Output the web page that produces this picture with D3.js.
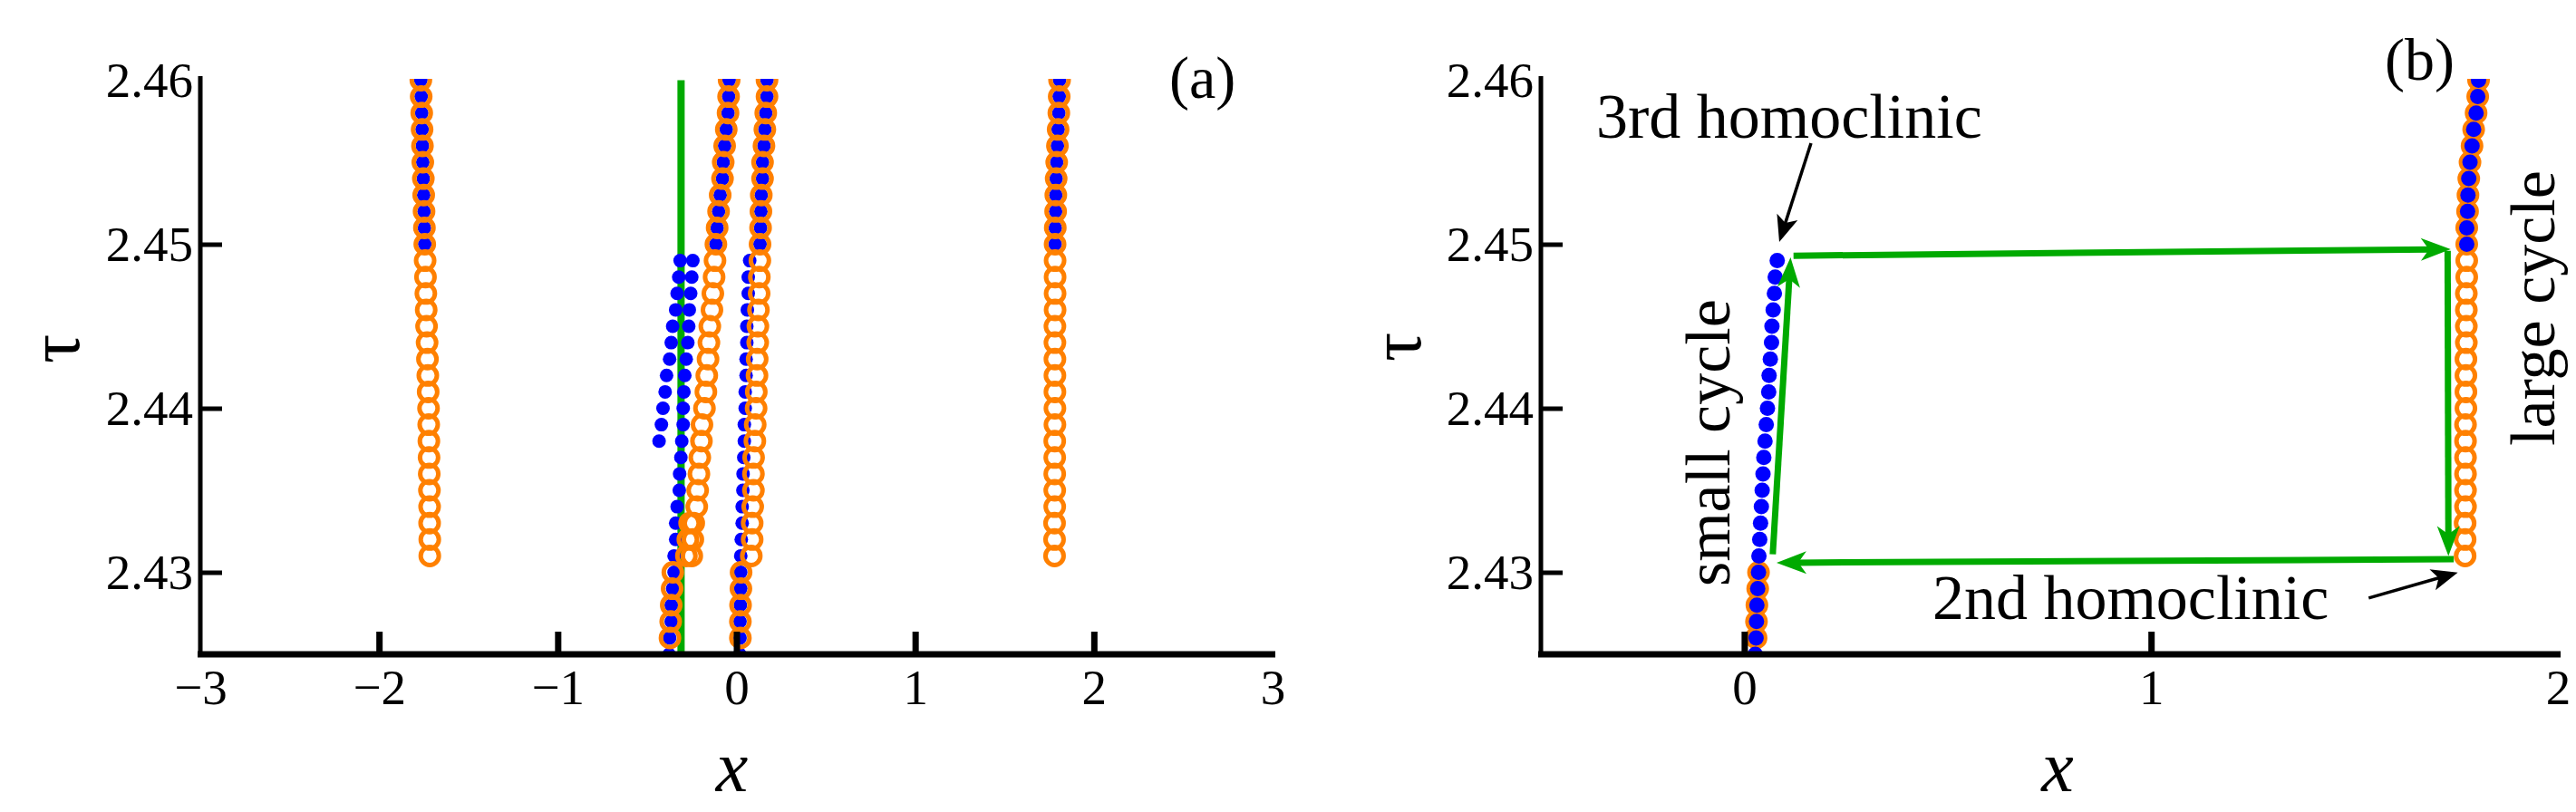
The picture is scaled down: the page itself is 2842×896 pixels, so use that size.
<!DOCTYPE html>
<html>
<head>
<meta charset="utf-8">
<title>Homoclinic bifurcation diagram</title>
<script src="https://cdn.jsdelivr.net/npm/d3@7/dist/d3.min.js"></script>
<style>
  html, body { margin: 0; padding: 0; background: #ffffff; }
  svg text { font-family: "Liberation Serif", "Times New Roman", Times, serif; fill: #000; }
</style>
</head>
<body>
<svg id="chart" width="2842" height="896"></svg>
<script>
// ================= DATA =================
// tau grids (one point every 0.001)
const tauLarge = [2.431, 2.432, 2.433, 2.434, 2.435, 2.436, 2.437, 2.438, 2.439, 2.440,
                  2.441, 2.442, 2.443, 2.444, 2.445, 2.446, 2.447, 2.448, 2.449, 2.450,
                  2.451, 2.452, 2.453, 2.454, 2.455, 2.456, 2.457, 2.458, 2.459, 2.460];
const tauUpper = [2.450, 2.451, 2.452, 2.453, 2.454, 2.455, 2.456, 2.457, 2.458, 2.459, 2.460];
const tauSmall = [2.425, 2.426, 2.427, 2.428, 2.429, 2.430, 2.431, 2.432, 2.433, 2.434,
                  2.435, 2.436, 2.437, 2.438, 2.439, 2.440, 2.441, 2.442, 2.443, 2.444,
                  2.445, 2.446, 2.447, 2.448, 2.449];
const tauLow = [2.426, 2.427, 2.428, 2.429, 2.430];
const tauSmallLeft = [2.438, 2.439, 2.440, 2.441, 2.442, 2.443, 2.444, 2.445, 2.446, 2.447, 2.448, 2.449];
const tauCluster = [2.431, 2.432, 2.433];

// ---- panel (a) : unstable (orange open circles) ----
const aLargeLeftX = [-1.716, -1.716, -1.717, -1.717, -1.718, -1.719, -1.720, -1.721, -1.722, -1.723,
                     -1.725, -1.727, -1.729, -1.731, -1.734, -1.736, -1.738, -1.740, -1.742, -1.744,
                     -1.746, -1.748, -1.750, -1.752, -1.755, -1.757, -1.759, -1.761, -1.764, -1.766];
const aLargeRightX = [1.780, 1.780, 1.780, 1.781, 1.781, 1.781, 1.781, 1.781, 1.782, 1.782,
                      1.782, 1.782, 1.782, 1.782, 1.782, 1.783, 1.783, 1.783, 1.783, 1.783,
                      1.784, 1.786, 1.787, 1.789, 1.792, 1.796, 1.800, 1.804, 1.806, 1.808];
const aMidLeftX = [-0.250, -0.244, -0.239, -0.222, -0.217, -0.210, -0.205, -0.196, -0.193, -0.179,
                   -0.171, -0.166, -0.159, -0.154, -0.149, -0.137, -0.132, -0.125, -0.120, -0.115,
                   -0.108, -0.100, -0.091, -0.078, -0.074, -0.066, -0.057, -0.047, -0.044, -0.041];
const aMidRightX = [0.083, 0.088, 0.088, 0.091, 0.095, 0.095, 0.096, 0.103, 0.105, 0.110,
                    0.111, 0.115, 0.116, 0.119, 0.120, 0.123, 0.127, 0.128, 0.131, 0.132,
                    0.135, 0.137, 0.139, 0.146, 0.146, 0.154, 0.159, 0.164, 0.171, 0.171];
const aLowLeftX = [-0.372, -0.368, -0.365, -0.360, -0.356];
const aLowRightX = [0.022, 0.022, 0.023, 0.025, 0.026];
const aClusterX = [-0.280, -0.272, -0.262];

// ---- panel (a) : stable (blue filled dots) ----
const aUpperLeftX = [-1.744, -1.746, -1.748, -1.750, -1.752, -1.755, -1.757, -1.759, -1.761, -1.764, -1.766];
const aUpperRightX = [1.783, 1.784, 1.786, 1.787, 1.789, 1.792, 1.796, 1.800, 1.804, 1.806, 1.808];
const aUpperMidLeftX = [-0.115, -0.108, -0.100, -0.091, -0.078, -0.074, -0.066, -0.057, -0.047, -0.044, -0.041];
const aUpperMidRightX = [0.132, 0.135, 0.137, 0.139, 0.146, 0.146, 0.154, 0.159, 0.164, 0.171, 0.171];
const aSmallLeftX = [-0.433, -0.420, -0.411, -0.399, -0.391, -0.374, -0.365, -0.357, -0.340, -0.332, -0.323, -0.315];
const aSmallMidX = [-0.377, -0.374, -0.365, -0.365, -0.357, -0.349, -0.349, -0.340, -0.340, -0.332,
                    -0.320, -0.318, -0.311, -0.306, -0.298, -0.298, -0.294, -0.289, -0.281, -0.272,
                    -0.267, -0.264, -0.256, -0.250, -0.244];
const aSmallRightX = [0.019, 0.020, 0.020, 0.022, 0.024, 0.024, 0.024, 0.027, 0.032, 0.032,
                      0.036, 0.037, 0.041, 0.044, 0.044, 0.049, 0.049, 0.054, 0.054, 0.058,
                      0.058, 0.061, 0.066, 0.066, 0.074];

// ---- panel (a) : green line ----
const aGreenX = [-0.31, -0.31];
const aGreenTau = [2.425, 2.46];

// ---- panel (b) ----
const bSmallX = [0.027, 0.029, 0.030, 0.031, 0.033, 0.035, 0.036, 0.038, 0.040, 0.042,
                 0.044, 0.046, 0.048, 0.051, 0.054, 0.057, 0.060, 0.061, 0.064, 0.067,
                 0.068, 0.071, 0.074, 0.076, 0.081];
const bLowX = [0.029, 0.030, 0.031, 0.033, 0.035];
const bLargeX = [1.772, 1.772, 1.772, 1.773, 1.773, 1.773, 1.773, 1.773, 1.773, 1.774,
                 1.774, 1.774, 1.774, 1.775, 1.775, 1.775, 1.775, 1.776, 1.776, 1.776,
                 1.776, 1.778, 1.779, 1.781, 1.784, 1.789, 1.793, 1.799, 1.803, 1.805];
const bUpperX = [1.776, 1.776, 1.778, 1.779, 1.781, 1.784, 1.789, 1.793, 1.799, 1.803, 1.805];

// hysteresis loop (green arrows): from -> to
const loopFromX   = [0.070, 0.121, 1.729, 1.744];
const loopFromTau = [2.4311, 2.4493, 2.4496, 2.4308];
const loopToX     = [0.1137, 1.7366, 1.731, 0.0793];
const loopToTau   = [2.4492, 2.4497, 2.4310, 2.43058];

// annotation arrows (black)
const annFromX   = [0.164, 1.535];
const annFromTau = [2.45616, 2.42843];
const annToX     = [0.086, 1.754];
const annToTau   = [2.45014, 2.42999];

// tick values
const aXTicks = [-3, -2, -1, 0, 1, 2, 3];
const aXTickMarks = [-2, -1, 0, 1, 2];
const bXTicks = [0, 1, 2];
const bXTickMarks = [0, 1];
const yTicks = [2.43, 2.44, 2.45, 2.46];
const yTickMarks = [2.43, 2.44, 2.45];

// ================= DRAWING =================
const W = 2842, H = 896;
const BLUE = "#0000ff", ORANGE = "#ff8000", GREEN = "#00aa00";
const svg = d3.select("#chart");
svg.append("rect").attr("width", W).attr("height", H).attr("fill", "#fff");

const y = d3.scaleLinear().domain([2.425, 2.46]).range([722, 88.5]);
const xa = d3.scaleLinear().domain([-3, 3]).range([221, 1404]);
const xb = d3.scaleLinear().domain([-0.5, 2]).range([1700, 2822]);

const defs = svg.append("defs");
function addClip(id, x) {
  defs.append("clipPath").attr("id", id).append("rect")
    .attr("x", x.range()[0]).attr("y", 87)
    .attr("width", x.range()[1] - x.range()[0]).attr("height", y.range()[0] - 87);
}
addClip("clipA", xa);
addClip("clipB", xb);

function dots(g, x, xs, taus, r) {
  g.append("g").selectAll("circle").data(d3.zip(xs, taus)).join("circle")
    .attr("cx", d => x(d[0])).attr("cy", d => y(d[1])).attr("r", r)
    .attr("fill", BLUE);
}
function rings(g, x, xs, taus, r, sw) {
  g.append("g").selectAll("circle").data(d3.zip(xs, taus)).join("circle")
    .attr("cx", d => x(d[0])).attr("cy", d => y(d[1])).attr("r", r)
    .attr("fill", "none").attr("stroke", ORANGE).attr("stroke-width", sw);
}
function arrow(g, x, fx, ft, tx, tt, color, width, len, hw, notch) {
  const x0 = x(fx), y0 = y(ft), x1 = x(tx), y1 = y(tt);
  const ang = Math.atan2(y1 - y0, x1 - x0);
  const back = len * 0.6;
  g.append("line")
    .attr("x1", x0).attr("y1", y0)
    .attr("x2", x1 - Math.cos(ang) * back).attr("y2", y1 - Math.sin(ang) * back)
    .attr("stroke", color).attr("stroke-width", width);
  g.append("path")
    .attr("d", `M0,0 L${-len},${-hw} L${-len + notch},0 L${-len},${hw} Z`)
    .attr("transform", `translate(${x1},${y1}) rotate(${ang * 180 / Math.PI})`)
    .attr("fill", color);
}

function axes(x, xTicks, xMarks) {
  const g = svg.append("g");
  const x0 = x.range()[0], x1 = x.range()[1];
  // x tick labels
  const gx = g.append("g").attr("transform", `translate(0,${y.range()[0]})`)
    .call(d3.axisBottom(x).tickValues(xTicks).tickSize(0).tickPadding(16).tickFormat(d3.format("d")));
  gx.select(".domain").remove();
  gx.selectAll("text").attr("font-size", 55).attr("font-family", "Liberation Serif");
  // x tick marks (inward)
  const gxm = g.append("g").attr("transform", `translate(0,${y.range()[0]})`)
    .call(d3.axisBottom(x).tickValues(xMarks).tickSizeInner(-25).tickSizeOuter(0).tickFormat(""));
  gxm.select(".domain").remove();
  gxm.selectAll("line").attr("stroke", "#000").attr("stroke-width", 7);
  // y tick labels
  const gy = g.append("g").attr("transform", `translate(${x0},0)`)
    .call(d3.axisLeft(y).tickValues(yTicks).tickSize(0).tickPadding(8).tickFormat(d3.format(".2f")));
  gy.select(".domain").remove();
  gy.selectAll("text").attr("font-size", 55).attr("font-family", "Liberation Serif");
  // y tick marks (inward)
  const gym = g.append("g").attr("transform", `translate(${x0},0)`)
    .call(d3.axisLeft(y).tickValues(yTickMarks).tickSizeInner(-24).tickSizeOuter(0).tickFormat(""));
  gym.select(".domain").remove();
  gym.selectAll("line").attr("stroke", "#000").attr("stroke-width", 5);
  // axis lines
  g.append("line").attr("x1", x0).attr("x2", x0).attr("y1", 84).attr("y2", y.range()[0])
    .attr("stroke", "#000").attr("stroke-width", 5);
  g.append("line").attr("x1", x0 - 3).attr("x2", x1 + 3).attr("y1", y.range()[0]).attr("y2", y.range()[0])
    .attr("stroke", "#000").attr("stroke-width", 7);
}

// ---------- panel (a) ----------
const pa = svg.append("g").attr("clip-path", "url(#clipA)");
pa.append("path")
  .datum(d3.zip(aGreenX, aGreenTau))
  .attr("d", d3.line().x(d => xa(d[0])).y(d => y(d[1])))
  .attr("stroke", GREEN).attr("stroke-width", 8).attr("fill", "none");
const RA = 7.5;
dots(pa, xa, aUpperLeftX, tauUpper, RA);
dots(pa, xa, aUpperRightX, tauUpper, RA);
dots(pa, xa, aUpperMidLeftX, tauUpper, RA);
dots(pa, xa, aUpperMidRightX, tauUpper, RA);
dots(pa, xa, aSmallLeftX, tauSmallLeft, RA);
dots(pa, xa, aSmallMidX, tauSmall, RA);
dots(pa, xa, aSmallRightX, tauSmall, RA);
rings(pa, xa, aLargeLeftX, tauLarge, 10, 5);
rings(pa, xa, aLargeRightX, tauLarge, 10, 5);
rings(pa, xa, aMidLeftX, tauLarge, 10, 5);
rings(pa, xa, aMidRightX, tauLarge, 10, 5);
rings(pa, xa, aClusterX, tauCluster, 10, 5);
rings(pa, xa, aLowLeftX, tauLow, 10, 5);
rings(pa, xa, aLowRightX, tauLow, 10, 5);
axes(xa, aXTicks, aXTickMarks);

// ---------- panel (b) ----------
const pb = svg.append("g").attr("clip-path", "url(#clipB)");
rings(pb, xb, bLowX, tauLow, 10, 5);
rings(pb, xb, bLargeX, tauLarge, 10, 5);
dots(pb, xb, bSmallX, tauSmall, 8.5);
dots(pb, xb, bUpperX, tauUpper, 8.5);
const loopG = svg.append("g");
for (let i = 0; i < loopFromX.length; i++) {
  arrow(loopG, xb, loopFromX[i], loopFromTau[i], loopToX[i], loopToTau[i], GREEN, 7, 33, 12.5, 9);
}
const annG = svg.append("g");
for (let i = 0; i < annFromX.length; i++) {
  arrow(annG, xb, annFromX[i], annFromTau[i], annToX[i], annToTau[i], "#000", 3.5, 29, 12, 7);
}
axes(xb, bXTicks, bXTickMarks);

// ---------- texts ----------
const T = svg.append("g");
// axis titles
T.append("text").attr("x", xa(0) - 5).attr("y", 873).attr("text-anchor", "middle")
  .attr("font-size", 80).attr("font-style", "italic").text("x");
T.append("text").attr("x", xb(0.77)).attr("y", 873).attr("text-anchor", "middle")
  .attr("font-size", 80).attr("font-style", "italic").text("x");
T.append("text").attr("transform", "translate(87,385) rotate(-90)").attr("text-anchor", "middle")
  .attr("font-size", 80).text("τ");
T.append("text").attr("transform", "translate(1567,383) rotate(-90)").attr("text-anchor", "middle")
  .attr("font-size", 80).text("τ");
// panel labels
T.append("text").attr("x", 1290).attr("y", 108).attr("font-size", 66).text("(a)");
T.append("text").attr("x", 2631).attr("y", 88).attr("font-size", 66).text("(b)");
// annotations (anchored in data coordinates of panel b)
T.append("text").attr("x", xb(-0.364)).attr("y", y(2.45649)).attr("font-size", 70).text("3rd homoclinic");
T.append("text").attr("x", xb(1.437)).attr("y", y(2.42715)).attr("text-anchor", "end")
  .attr("font-size", 70).text("2nd homoclinic");
T.append("text").attr("transform", `translate(${xb(-0.037)},${y(2.42914)}) rotate(-90)`)
  .attr("font-size", 70).text("small cycle");
T.append("text").attr("transform", `translate(${xb(1.991)},${y(2.43771)}) rotate(-90)`)
  .attr("font-size", 70).text("large cycle");
</script>
</body>
</html>
